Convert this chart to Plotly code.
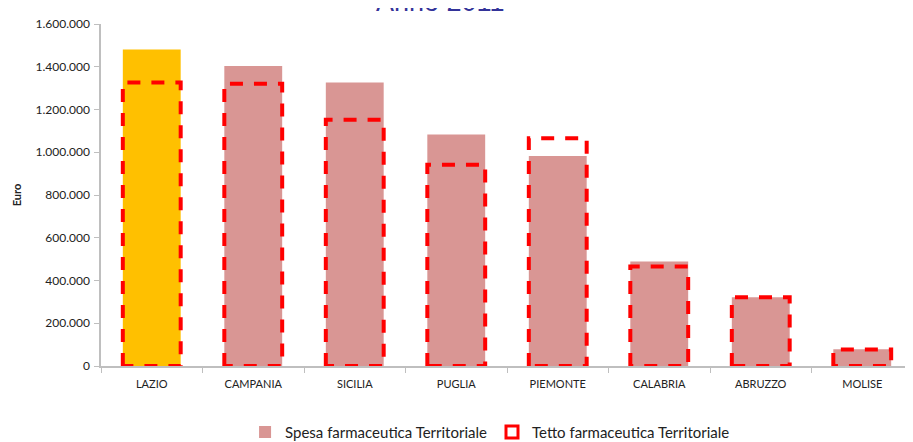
import plotly.graph_objects as go

categories = ["LAZIO", "CAMPANIA", "SICILIA", "PUGLIA", "PIEMONTE", "CALABRIA", "ABRUZZO", "MOLISE"]
spesa = [1481000, 1403000, 1326000, 1083000, 983000, 489000, 322000, 78000]
tetto = [1326000, 1321000, 1152000, 942000, 1065000, 466000, 322000, 77000]
highlight = "LAZIO"

PINK = "#D99694"
GOLD = "#FFC000"
RED = "#FF0000"
BAR_W = 0.57

xs = list(range(len(categories)))
colors = [GOLD if c == highlight else PINK for c in categories]

fig = go.Figure()
fig.add_trace(go.Bar(
    x=xs, y=spesa, width=BAR_W, marker=dict(color=colors, line=dict(width=0)),
    name="Spesa farmaceutica Territoriale", showlegend=False,
))
# legend item for spesa
fig.add_trace(go.Bar(x=[None], y=[None], marker=dict(color=PINK, line=dict(width=0)),
                     name="Spesa farmaceutica Territoriale", showlegend=True))

# dashed outline rectangles for tetto, from data
px_, py_ = [], []
h = BAR_W / 2
for i, t in zip(xs, tetto):
    px_ += [i - h, i - h, i + h, i + h, i - h, None]
    py_ += [0, t, t, 0, 0, None]
fig.add_trace(go.Scatter(
    x=px_, y=py_, mode="lines", line=dict(color=RED, width=4, dash="13px,11px"),
    showlegend=False, hoverinfo="skip", cliponaxis=False,
))
fig.add_trace(go.Bar(x=[None], y=[None], marker=dict(color="rgba(0,0,0,0)", line=dict(color=RED, width=3)),
                     name="Tetto farmaceutica Territoriale", showlegend=True))

fig.update_layout(
    width=913, height=442,
    margin=dict(l=89, r=8, t=8, b=84),
    paper_bgcolor="white", plot_bgcolor="white",
    barmode="overlay",
    separators=",.",
    font=dict(family="Lato, Liberation Sans, sans-serif", size=12, color="#222222"),
    showlegend=True,
    legend=dict(orientation="h", xref="container", yref="container", x=0.528, y=0.04,
                xanchor="center", yanchor="middle", font=dict(size=15, color="#222222"),
                itemwidth=30, traceorder="normal"),
    annotations=[dict(text="Anno 2011", xref="paper", yref="paper", x=0.418, y=1,
                      xanchor="center", yanchor="bottom", yshift=5, showarrow=False,
                      font=dict(family="Liberation Sans, Arial, sans-serif", size=27, color="#333399"))],
)
fig.update_xaxes(
    range=[-0.5, len(categories) - 0.5],
    tickvals=xs, ticktext=categories, ticks="", ticklabelstandoff=7,
    tickfont=dict(size=11, color="#222222"),
    showline=True, linecolor="#BFBFBF", linewidth=1.5, showgrid=False, zeroline=False,
    minor=dict(ticks="outside", tick0=-0.5, dtick=1, ticklen=5, tickcolor="#BFBFBF", showgrid=False),
)
fig.update_yaxes(
    range=[0, 1600000], dtick=200000, tickformat=",d",
    ticks="outside", ticklen=5, tickcolor="#BFBFBF", ticklabelstandoff=2,
    showline=True, linecolor="#BFBFBF", linewidth=1.5, showgrid=False, zeroline=False,
    tickfont=dict(size=12, color="#222222"),
    title=dict(text="<b>Euro</b>", font=dict(size=11, color="#222222"), standoff=12),
)

fig.write_html("out.html")
